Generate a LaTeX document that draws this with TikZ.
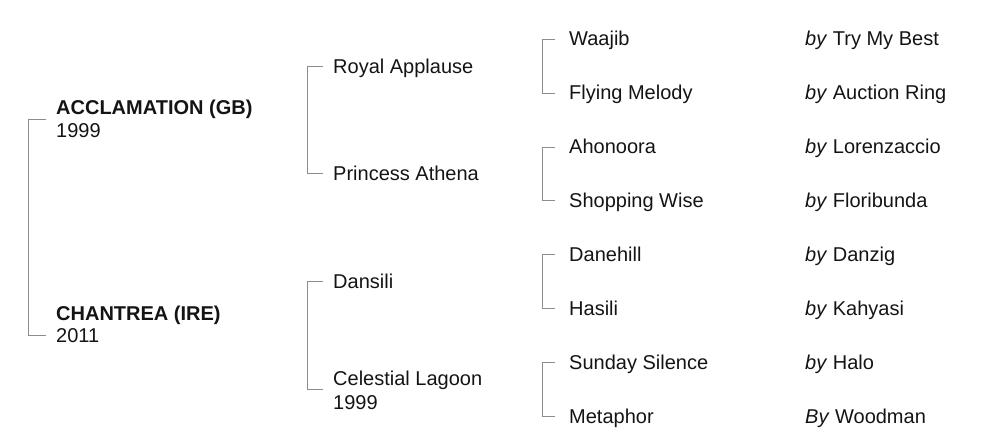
\documentclass[tikz,border=0pt]{standalone}
\usepackage{fontspec}
\setmainfont{Liberation Sans}
\begin{document}
\begin{tikzpicture}[x=1pt,y=-1pt,
  txt/.style={anchor=base west,inner sep=0pt,font=\fontsize{20}{24}\selectfont,text=black!92},
  bold/.style={txt,font=\fontsize{20}{24}\selectfont\bfseries},
  br/.style={draw=black!45,line width=1pt}]
\useasboundingbox (0,0) rectangle (990,445);
% generation 1
\node[bold] (acc) at (56,114) {ACCLAMATION (GB)};
\node[txt] (accy) at (56,137) {1999};
\node[bold] (cha) at (56,320) {CHANTREA (IRE)};
\node[txt] (chay) at (56,342) {2011};
% generation 2
\node[txt] (roy) at (333,73) {Royal Applause};
\node[txt] (pri) at (333,180) {Princess Athena};
\node[txt] (dan) at (333,288) {Dansili};
\node[txt] (cel) at (333,385) {Celestial Lagoon};
\node[txt] (cely) at (333,409) {1999};
% generation 3
\node[txt] (waa) at (569,45) {Waajib};
\node[txt] (fly) at (569,99) {Flying Melody};
\node[txt] (aho) at (569,153) {Ahonoora};
\node[txt] (sho) at (569,207) {Shopping Wise};
\node[txt] (dnh) at (569,261) {Danehill};
\node[txt] (has) at (569,315) {Hasili};
\node[txt] (sun) at (569,369) {Sunday Silence};
\node[txt] (met) at (569,423) {Metaphor};
% sires of dams
\node[txt] (s1) at (805,45) {\textit{by} Try My Best};
\node[txt] (s2) at (805,99) {\textit{by} Auction Ring};
\node[txt] (s3) at (805,153) {\textit{by} Lorenzaccio};
\node[txt] (s4) at (805,207) {\textit{by} Floribunda};
\node[txt] (s5) at (805,261) {\textit{by} Danzig};
\node[txt] (s6) at (805,315) {\textit{by} Kahyasi};
\node[txt] (s7) at (805,369) {\textit{by} Halo};
\node[txt] (s8) at (805,423) {\textit{By} Woodman};
% bracket points
\coordinate (tacc) at (46,119);  \coordinate (vacc) at (28,119);
\coordinate (tcha) at (46,335);  \coordinate (vcha) at (28,335);
\coordinate (troy) at (323,66.5); \coordinate (vroy) at (307,66.5);
\coordinate (tpri) at (323,173); \coordinate (vpri) at (307,173);
\coordinate (tdan) at (323,281); \coordinate (vdan) at (307,281);
\coordinate (tcel) at (323,389); \coordinate (vcel) at (307,389);
\foreach \n/\y in {waa/39,fly/93,aho/147,sho/200.5,dnh/254.5,has/308.5,sun/362.5,met/416.5}{
  \coordinate (t\n) at (555,\y); \coordinate (v\n) at (542.5,\y);}
% brackets
\draw[br] (tacc) -- (vacc) -- (vcha) -- (tcha);
\draw[br] (troy) -- (vroy) -- (vpri) -- (tpri);
\draw[br] (tdan) -- (vdan) -- (vcel) -- (tcel);
\draw[br] (twaa) -- (vwaa) -- (vfly) -- (tfly);
\draw[br] (taho) -- (vaho) -- (vsho) -- (tsho);
\draw[br] (tdnh) -- (vdnh) -- (vhas) -- (thas);
\draw[br] (tsun) -- (vsun) -- (vmet) -- (tmet);
\end{tikzpicture}
\end{document}
